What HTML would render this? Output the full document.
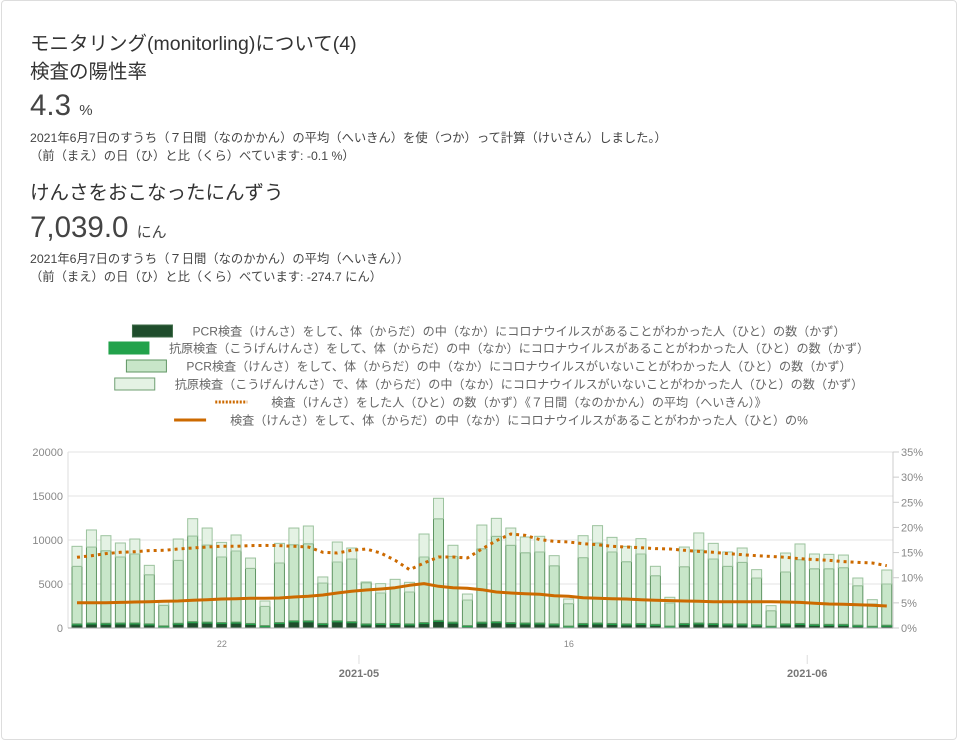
<!DOCTYPE html>
<html><head><meta charset="utf-8">
<style>
html,body{margin:0;padding:0;background:#fff;}
body{width:959px;height:730px;overflow:hidden;font-family:"Liberation Sans","Noto Sans CJK JP",sans-serif;color:#333;position:relative;}
.card{position:absolute;left:1px;top:0;width:956px;height:740px;border:1px solid #ddd;border-radius:4px;box-sizing:border-box;}
.t{position:absolute;left:30px;white-space:nowrap;}
.h{font-size:19.5px;color:#333;}
.big{font-size:29.5px;color:#444;}
.big span{font-size:15px;}
.note{font-size:12.3px;color:#444;}
</style></head><body>
<div class="card"></div>
<div class="t h" style="top:27px">モニタリング(monitorling)について(4)</div>
<div class="t h" style="top:55px">検査の陽性率</div>
<div class="t big" style="top:89px">4.3 <span>%</span></div>
<div class="t note" style="top:128px">2021年6月7日のすうち（７日間（なのかかん）の平均（へいきん）を使（つか）って計算（けいさん）しました。）</div>
<div class="t note" style="top:146px">（前（まえ）の日（ひ）と比（くら）べています: -0.1 %）</div>
<div class="t h" style="top:176px">けんさをおこなったにんずう</div>
<div class="t big" style="top:211px">7,039.0 <span>にん</span></div>
<div class="t note" style="top:249px">2021年6月7日のすうち（７日間（なのかかん）の平均（へいきん））</div>
<div class="t note" style="top:267px">（前（まえ）の日（ひ）と比（くら）べています: -274.7 にん）</div>
<svg id="chart" width="959" height="730" style="position:absolute;left:0;top:0"></svg>
<script>
const pcrPos=[350,450,420,450,450,350,120,420,600,550,500,550,400,150,500,700,700,400,700,600,350,400,400,350,500,750,550,150,550,600,500,450,450,350,100,400,450,400,350,400,300,100,400,450,400,350,350,250,80,350,400,300,300,300,200,80,200];
const agPos=[120,120,120,120,120,120,120,120,120,120,120,120,120,120,120,120,120,120,120,120,120,120,120,120,120,120,120,120,120,120,120,120,120,120,120,120,120,120,120,120,120,120,120,120,120,120,120,120,120,120,120,120,120,120,120,120,120];
const pcrNeg=[6540,8630,8250,7500,7840,5590,2340,7150,9730,8760,7450,8080,6260,2190,6770,8650,8760,4590,6680,7120,4680,3460,4060,3620,7450,11550,7470,2910,8340,9700,8780,7990,8070,6610,2550,7480,9090,8120,7070,7890,5530,2620,6450,8290,7320,6540,6990,5310,1770,5900,7250,6320,6320,6440,4490,2530,4680];
const agNeg=[2270,1940,1700,1590,1700,1060,450,2420,1970,1930,1660,1820,1170,610,2230,1890,2010,690,2270,1250,80,1060,950,1100,2610,2320,1260,680,2690,2040,1960,1780,1780,1140,530,2490,1970,1660,1740,1740,1060,650,2230,1940,1780,1630,1630,950,570,2150,1780,1670,1630,1430,870,490,1590];
const avgTested=[8030,8220,8450,8600,8670,8790,8830,8980,9090,9200,9280,9280,9360,9390,9360,9280,9200,8600,8520,8830,8980,8520,7690,6630,7390,8070,8070,7950,8980,9920,10680,10530,10040,9850,9770,9580,9470,9280,9200,9130,9020,8980,8830,8710,8600,8450,8330,8220,8140,8030,7880,7770,7690,7540,7460,7390,7080];
const posRate=[5.04,5.04,5.04,5.10,5.17,5.24,5.30,5.37,5.50,5.63,5.77,5.83,5.90,5.90,5.97,6.17,6.30,6.56,6.96,7.29,7.56,7.76,8.02,8.49,8.82,8.29,8.02,7.89,7.62,7.16,6.96,6.83,6.70,6.43,6.30,6.03,5.90,5.83,5.77,5.63,5.50,5.44,5.37,5.30,5.24,5.24,5.24,5.24,5.24,5.17,5.10,4.91,4.77,4.71,4.64,4.51,4.38];
const leftTicks=[0,5000,10000,15000,20000];
const rightTicks=[0,5,10,15,20,25,30,35];
const minorLabels=[{day:11,text:"22"},{day:35,text:"16"}];
const majorLabels=[{day:20,text:"2021-05"},{day:51,text:"2021-06"}];
const legendItems=["PCR検査（けんさ）をして、体（からだ）の中（なか）にコロナウイルスがあることがわかった人（ひと）の数（かず）","抗原検査（こうげんけんさ）をして、体（からだ）の中（なか）にコロナウイルスがあることがわかった人（ひと）の数（かず）","PCR検査（けんさ）をして、体（からだ）の中（なか）にコロナウイルスがいないことがわかった人（ひと）の数（かず）","抗原検査（こうげんけんさ）で、体（からだ）の中（なか）にコロナウイルスがいないことがわかった人（ひと）の数（かず）","検査（けんさ）をした人（ひと）の数（かず）《７日間（なのかかん）の平均（へいきん）》","検査（けんさ）をして、体（からだ）の中（なか）にコロナウイルスがあることがわかった人（ひと）の%"];

const NS="http://www.w3.org/2000/svg";
const svg=document.getElementById('chart');
const L=68,R=893,T=452,B=628;
const yL=v=>B-(v/20000)*(B-T);
const yR=v=>B-(v/35)*(B-T);
const step=14.46;
const xT=t=>77+step*(t-0.5);
const xBar=i=>xT(i+0.5);
function mk(tag,attrs,parent){const e=document.createElementNS(NS,tag);for(const k in attrs)e.setAttribute(k,attrs[k]);(parent||svg).appendChild(e);return e;}

const legStyles=[{f:"#1f4d2c",s:"#3e6b47"},{f:"#22a24b",s:"#22a24b"},{f:"#c8e6c9",s:"#5f9563"},{f:"#e4f2e4",s:"#6f9f72"},{dot:true},{line:true}];
const legY=[331,348,366,384,402,420];
const cx=489;
legendItems.forEach((txt,i)=>{
  const g=mk('g',{});
  
  
  const t=mk('text',{y:legY[i]+4.5,'font-size':12.1,fill:'#666','font-family':'"Liberation Sans","Noto Sans CJK JP",sans-serif'},g);
  t.textContent=txt;
  const w=t.getComputedTextLength();
  const total=40+20+w;
  const x0=cx-total/2;
  t.setAttribute('x',x0+60);
  const st=legStyles[i];
  if(st.dot){mk('line',{x1:x0+4,x2:x0+36,y1:legY[i],y2:legY[i],stroke:'#cc6a00','stroke-width':3,'stroke-dasharray':'2 1.5'},g);}
  else if(st.line){mk('line',{x1:x0+4,x2:x0+36,y1:legY[i],y2:legY[i],stroke:'#cc6a00','stroke-width':3},g);}
  else mk('rect',{x:x0,y:legY[i]-6,width:40,height:12,fill:st.f,stroke:st.s,'stroke-width':1},g);
});

leftTicks.forEach(v=>{
  const ln=mk('line',{x1:L,x2:R,y1:yL(v),y2:yL(v),stroke:'#e3e3e3','stroke-width':1});
  
  
  const tx=mk('text',{x:L-5,y:yL(v)+4,'text-anchor':'end','font-size':11,fill:'#888'});
  
  
  tx.textContent=v;
});
rightTicks.forEach(v=>{
  mk('line',{x1:R,x2:R+6,y1:yR(v),y2:yR(v),stroke:'#ccc'});
  const tx=mk('text',{x:R+8,y:yR(v)+4,'font-size':11,fill:'#888'});
  
  
  tx.textContent=v+'%';
});
mk('line',{x1:L,x2:L,y1:T,y2:B,stroke:'#ddd'});
mk('line',{x1:R,x2:R,y1:T,y2:B,stroke:'#ccc'});

const series=[{d:pcrPos,f:"#1f4d2c",s:"#2e5e39",n:'bar-pcr-positive'},{d:agPos,f:"#22a24b",s:"#22a24b",n:'bar-antigen-positive'},{d:pcrNeg,f:"#c8e6c9",s:"#5f9563",n:'bar-pcr-negative'},{d:agNeg,f:"#e4f2e4",s:"#9cc39e",n:'bar-antigen-negative'}];
for(let i=0;i<pcrPos.length;i++){
  let base=0;
  series.forEach(sr=>{
    const v=sr.d[i];
    const y1=yL(base+v),y0=yL(base);
    const r=mk('rect',{x:xBar(i)-5,y:y1,width:10,height:Math.max(0,y0-y1),fill:sr.f,stroke:sr.s,'stroke-width':1});
    
    
    base+=v;
  });
}
mk('line',{x1:L,x2:R,y1:B,y2:B,stroke:'#aaa'});

const dp=avgTested.map((v,i)=>(i?'L':'M')+xBar(i).toFixed(1)+' '+yL(v).toFixed(1)).join(' ');
const dl=mk('path',{d:dp,fill:'none',stroke:'#cc6a00','stroke-width':3,'stroke-dasharray':'3 4'});


const pp=posRate.map((v,i)=>(i?'L':'M')+xBar(i).toFixed(1)+' '+yR(v).toFixed(1)).join(' ');
const pl=mk('path',{d:pp,fill:'none',stroke:'#cc6a00','stroke-width':3,'stroke-linejoin':'round'});



minorLabels.forEach(m=>{
  const tx=mk('text',{x:xT(m.day)-7,y:647,'text-anchor':'middle','font-size':9,fill:'#888'});
  
  
  tx.textContent=m.text;
});
majorLabels.forEach(m=>{
  mk('line',{x1:xT(m.day),x2:xT(m.day),y1:655,y2:664,stroke:'#ddd'});
  const tx=mk('text',{x:xT(m.day),y:677,'text-anchor':'middle','font-size':11,'font-weight':'bold',fill:'#777'});
  
  
  tx.textContent=m.text;
});
</script>
</body></html>
